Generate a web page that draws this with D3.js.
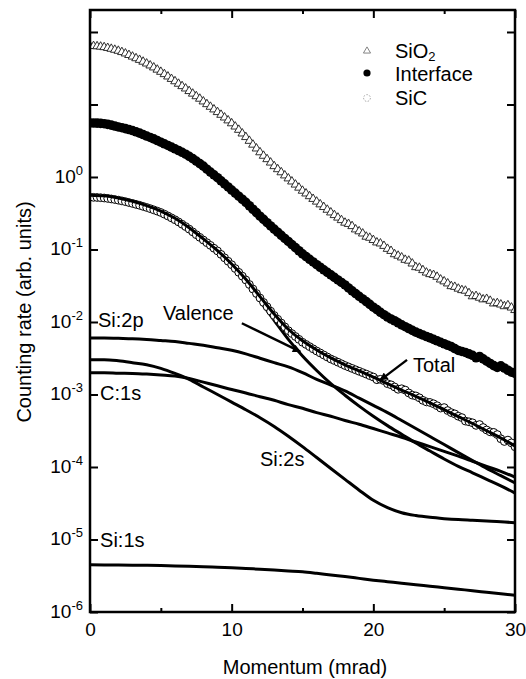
<!DOCTYPE html>
<html>
<head>
<meta charset="utf-8">
<script src="https://cdn.jsdelivr.net/npm/d3@7"></script>
<style>
  body { margin: 0; background: #fff; }
  text { font-family: "Liberation Sans", Arial, Helvetica, sans-serif; fill: #000; }
</style>
</head>
<body>
<div id="chart"></div>
<script>
// measured spectra, one point every 0.25 mrad
const momentum = [0, 0.25, 0.5, 0.75, 1, 1.25, 1.5, 1.75, 2, 2.25, 2.5, 2.75, 3, 3.25, 3.5, 3.75, 4, 4.25, 4.5, 4.75,
    5, 5.25, 5.5, 5.75, 6, 6.25, 6.5, 6.75, 7, 7.25, 7.5, 7.75, 8, 8.25, 8.5, 8.75, 9, 9.25, 9.5, 9.75,
    10, 10.25, 10.5, 10.75, 11, 11.25, 11.5, 11.75, 12, 12.25, 12.5, 12.75, 13, 13.25, 13.5, 13.75, 14, 14.25, 14.5, 14.75,
    15, 15.25, 15.5, 15.75, 16, 16.25, 16.5, 16.75, 17, 17.25, 17.5, 17.75, 18, 18.25, 18.5, 18.75, 19, 19.25, 19.5, 19.75,
    20, 20.25, 20.5, 20.75, 21, 21.25, 21.5, 21.75, 22, 22.25, 22.5, 22.75, 23, 23.25, 23.5, 23.75, 24, 24.25, 24.5, 24.75,
    25, 25.25, 25.5, 25.75, 26, 26.25, 26.5, 26.75, 27, 27.25, 27.5, 27.75, 28, 28.25, 28.5, 28.75, 29, 29.25, 29.5, 29.75, 30];

const sio2Rate = [64.1, 63.9, 63.5, 62.7, 61.7, 60.2, 58.6, 56.8, 55.0, 52.8, 50.5, 48.1, 45.7, 43.4, 41.2, 38.9,
    36.7, 34.5, 32.4, 30.2, 28.2, 26.2, 24.3, 22.5, 20.9, 19.3, 17.9, 16.6, 15.3, 14.1, 13.0, 12.0,
    11.0, 10.1, 9.29, 8.54, 7.85, 7.20, 6.61, 6.03, 5.50, 4.96, 4.47, 3.98, 3.55, 3.15, 2.79, 2.47,
    2.19, 1.96, 1.76, 1.58, 1.41, 1.28, 1.16, 1.05, 0.955, 0.866, 0.785, 0.712, 0.646, 0.592, 0.543, 0.498,
    0.457, 0.419, 0.385, 0.353, 0.324, 0.298, 0.275, 0.254, 0.234, 0.225, 0.210, 0.189, 0.178, 0.166, 0.150, 0.145,
    0.135, 0.125, 0.121, 0.112, 0.102, 0.0955, 0.0860, 0.0820, 0.0776, 0.0720, 0.0700, 0.0640, 0.0570, 0.0560, 0.0519, 0.0480,
    0.0457, 0.0445, 0.0420, 0.0385, 0.0363, 0.0340, 0.0312, 0.0305, 0.0288, 0.0275, 0.0270, 0.0250, 0.0226, 0.0228, 0.0216, 0.0205,
    0.0208, 0.0196, 0.0180, 0.0182, 0.0174, 0.0165, 0.0170, 0.0158, 0.0146];

const interfaceRate = [5.56, 5.55, 5.53, 5.48, 5.43, 5.31, 5.19, 5.05, 4.90, 4.78, 4.65, 4.51, 4.37, 4.20, 4.03, 3.85,
    3.67, 3.51, 3.35, 3.18, 3.02, 2.87, 2.72, 2.58, 2.45, 2.32, 2.19, 2.06, 1.93, 1.79, 1.66, 1.53,
    1.41, 1.28, 1.17, 1.07, 0.977, 0.886, 0.804, 0.729, 0.661, 0.599, 0.543, 0.493, 0.447, 0.401, 0.359, 0.322,
    0.288, 0.260, 0.234, 0.211, 0.191, 0.173, 0.157, 0.142, 0.129, 0.117, 0.106, 0.0961, 0.0871, 0.0799, 0.0733, 0.0673,
    0.0617, 0.0569, 0.0525, 0.0484, 0.0447, 0.0412, 0.0380, 0.0351, 0.0324, 0.0295, 0.0269, 0.0247, 0.0226, 0.0208, 0.0191, 0.0175,
    0.0160, 0.0148, 0.0136, 0.0126, 0.0117, 0.0110, 0.0104, 0.00974, 0.00912, 0.00861, 0.00813, 0.00767, 0.00724, 0.00692, 0.00661, 0.00631,
    0.00603, 0.00576, 0.00550, 0.00525, 0.00501, 0.00478, 0.00457, 0.00430, 0.00405, 0.00392, 0.00380, 0.00363, 0.00347, 0.00321, 0.00335, 0.00310,
    0.00288, 0.00268, 0.00250, 0.00236, 0.00248, 0.00232, 0.00216, 0.00203, 0.00195];

const sicRate = [0.525, 0.524, 0.522, 0.518, 0.513, 0.506, 0.498, 0.489, 0.479, 0.468, 0.457, 0.444, 0.432, 0.419, 0.407, 0.393,
    0.380, 0.366, 0.352, 0.338, 0.324, 0.307, 0.290, 0.273, 0.257, 0.240, 0.223, 0.207, 0.191, 0.175, 0.160, 0.147,
    0.135, 0.124, 0.114, 0.104, 0.0955, 0.0856, 0.0767, 0.0688, 0.0617, 0.0546, 0.0484, 0.0429, 0.0380, 0.0329, 0.0285, 0.0247,
    0.0214, 0.0186, 0.0162, 0.0141, 0.0123, 0.0109, 0.00966, 0.00856, 0.00759, 0.00692, 0.00631, 0.00576, 0.00525, 0.00490, 0.00457, 0.00426,
    0.00398, 0.00374, 0.00351, 0.00329, 0.00309, 0.00294, 0.00279, 0.00265, 0.00251, 0.00240, 0.00229, 0.00219, 0.00209, 0.00200, 0.00191, 0.00182,
    0.00174, 0.00160, 0.00162, 0.00155, 0.00141, 0.00136, 0.00127, 0.00118, 0.00120, 0.00115, 0.00105, 0.000980, 0.000955, 0.000900, 0.000830, 0.000790,
    0.000776, 0.000745, 0.000700, 0.000650, 0.000660, 0.000600, 0.000562, 0.000540, 0.000501, 0.000480, 0.000430, 0.000420, 0.000407, 0.000375, 0.000385, 0.000350,
    0.000324, 0.000305, 0.000300, 0.000280, 0.000245, 0.000225, 0.000235, 0.000215, 0.000190];

// fitted contributions, one point every 1 mrad
const fitMomentum = [0, 1, 2, 3, 4, 5, 6, 7, 8, 9, 10, 11, 12, 13, 14, 15, 16, 17, 18, 19, 20,
    21, 22, 23, 24, 25, 26, 27, 28, 29, 30];

const totalFit = [0.562, 0.550, 0.513, 0.462, 0.403, 0.339, 0.269, 0.200, 0.140, 0.0966, 0.0631, 0.0389, 0.0224,
    0.0129, 0.00794, 0.00550, 0.00412, 0.00320, 0.00257, 0.00211, 0.00174, 0.00141, 0.00115, 0.000944,
    0.000767, 0.000617, 0.000495, 0.000398, 0.000316, 0.000251, 0.000195];

const valenceFit = [0.550, 0.537, 0.501, 0.452, 0.394, 0.331, 0.263, 0.195, 0.136, 0.0944, 0.0617, 0.0363, 0.0195,
    0.0105, 0.00575, 0.00339, 0.00214, 0.00141, 0.000977, 0.000692, 0.000501, 0.000372, 0.000282, 0.000214,
    0.000166, 0.000129, 0.000102, 0.0000832, 0.0000676, 0.0000550, 0.0000437];

const si2pFit = [0.00603, 0.00603, 0.00596, 0.00589, 0.00575, 0.00556, 0.00537, 0.00507, 0.00479, 0.00442, 0.00407,
    0.00363, 0.00316, 0.00275, 0.00240, 0.00200, 0.00162, 0.00135, 0.00112, 0.000891, 0.000708, 0.000562,
    0.000437, 0.000339, 0.000263, 0.000204, 0.000158, 0.000123, 0.0000955, 0.0000759, 0.0000603];

const c1sFit = [0.00200, 0.00200, 0.00197, 0.00195, 0.00191, 0.00186, 0.00180, 0.00166, 0.00148, 0.00132, 0.00117,
    0.00105, 0.000933, 0.000832, 0.000724, 0.000646, 0.000562, 0.000501, 0.000437, 0.000389, 0.000339,
    0.000295, 0.000257, 0.000221, 0.000191, 0.000164, 0.000141, 0.000120, 0.000102, 0.0000871, 0.0000724];

const si2sFit = [0.00302, 0.00302, 0.00292, 0.00275, 0.00257, 0.00229, 0.00195, 0.00162, 0.00127, 0.00100, 0.000785,
    0.000617, 0.000479, 0.000363, 0.000266, 0.000191, 0.000135, 0.0000955, 0.0000676, 0.0000479, 0.0000347,
    0.0000275, 0.0000234, 0.0000214, 0.0000202, 0.0000194, 0.0000188, 0.0000184, 0.0000180, 0.0000176, 0.0000170];

const si1sFit = [4.47e-6, 4.46e-6, 4.44e-6, 4.42e-6, 4.40e-6, 4.37e-6, 4.32e-6, 4.26e-6, 4.20e-6, 4.14e-6, 4.07e-6,
    3.98e-6, 3.89e-6, 3.79e-6, 3.69e-6, 3.59e-6, 3.42e-6, 3.24e-6, 3.08e-6, 2.91e-6, 2.75e-6,
    2.62e-6, 2.50e-6, 2.38e-6, 2.27e-6, 2.16e-6, 2.06e-6, 1.97e-6, 1.87e-6, 1.78e-6, 1.70e-6];

// axis ticks
const xMajorTicks = [0, 10, 20, 30];
const xMinorTicks = [5, 15, 25];
const yTicks = [1e-6, 1e-5, 1e-4, 1e-3, 1e-2, 1e-1, 1e0, 1e1, 1e2];
const yTickExponents = ["-6", "-5", "-4", "-3", "-2", "-1", "0"];

// annotations: [text, momentum, rate]
const curveLabels = [
    ["Si:2p", 0.56, 8.5e-3],
    ["C:1s", 0.71, 8.4e-4],
    ["Si:1s", 0.71, 7.9e-6],
    ["Valence", 5.15, 1.07e-2],
    ["Total", 22.8, 2.04e-3],
    ["Si:2s", 12.0, 1.03e-4]
];
// arrows: [fromMomentum, fromRate, toMomentum, toRate]
const arrows = [
    [10.72, 9.6e-3, 14.84, 3.9e-3],
    [22.38, 3.0e-3, 20.49, 1.58e-3]
];

const width = 526, height = 679;

const svg = d3.select("#chart")
    .append("svg")
    .attr("width", width)
    .attr("height", height);

const x = d3.scaleLinear().domain([0, 30]).range([90, 515]);
const y = d3.scaleLog().domain([1e-6, 201]).range([612, 10]);

const defs = svg.append("defs");
defs.append("clipPath")
    .attr("id", "plot-clip")
    .append("rect")
    .attr("x", 90).attr("y", 10)
    .attr("width", 425).attr("height", 602);

defs.append("marker")
    .attr("id", "arrowhead")
    .attr("viewBox", "0 0 10 10")
    .attr("refX", 9).attr("refY", 5)
    .attr("markerWidth", 4.2).attr("markerHeight", 3.4)
    .attr("orient", "auto")
    .append("path")
    .attr("d", "M0,0 L10,5 L0,10 z")
    .attr("fill", "#000");

const plot = svg.append("g").attr("clip-path", "url(#plot-clip)");

// fitted component lines
const line = d3.line()
    .curve(d3.curveMonotoneX)
    .x((d, i) => x(fitMomentum[i]))
    .y(d => y(d));

[si1sFit, si2sFit, c1sFit, si2pFit, valenceFit].forEach(series => {
    plot.append("path")
        .datum(series)
        .attr("fill", "none")
        .attr("stroke", "#000")
        .attr("stroke-width", 3)
        .attr("d", line);
});

// SiO2 triangles
plot.append("g")
    .selectAll("path")
    .data(sio2Rate)
    .join("path")
    .attr("transform", (d, i) => `translate(${x(momentum[i])},${y(d)})`)
    .attr("d", d3.symbol(d3.symbolTriangle, 32))
    .attr("fill", "#fff")
    .attr("stroke", "#1a1a1a")
    .attr("stroke-width", 0.9);

// Interface dots
plot.append("g")
    .selectAll("circle")
    .data(interfaceRate)
    .join("circle")
    .attr("cx", (d, i) => x(momentum[i]))
    .attr("cy", d => y(d))
    .attr("r", 4.8)
    .attr("fill", "#000");

// SiC open circles
plot.append("g")
    .selectAll("circle")
    .data(sicRate)
    .join("circle")
    .attr("cx", (d, i) => x(momentum[i]))
    .attr("cy", d => y(d))
    .attr("r", 3.9)
    .attr("fill", "#fff")
    .attr("stroke", "#000")
    .attr("stroke-width", 1);

// total fit on top
plot.append("path")
    .datum(totalFit)
    .attr("fill", "none")
    .attr("stroke", "#000")
    .attr("stroke-width", 3)
    .attr("d", line);

// axes (ticks only, pointing inward)
const noLabel = () => "";
svg.append("g").attr("transform", "translate(0,612)")
    .call(d3.axisBottom(x).tickValues(xMajorTicks).tickSize(-8).tickPadding(11).tickFormat(d3.format("d")));
svg.append("g").attr("transform", "translate(0,612)")
    .call(d3.axisBottom(x).tickValues(xMinorTicks).tickSize(-4).tickFormat(noLabel));
svg.append("g").attr("transform", "translate(0,10)")
    .call(d3.axisTop(x).tickValues(xMajorTicks).tickSize(-8).tickFormat(noLabel));
svg.append("g").attr("transform", "translate(0,10)")
    .call(d3.axisTop(x).tickValues(xMinorTicks).tickSize(-4).tickFormat(noLabel));
svg.append("g").attr("transform", "translate(90,0)")
    .call(d3.axisLeft(y).tickValues(yTicks).tickSize(-8).tickFormat(noLabel));
svg.append("g").attr("transform", "translate(515,0)")
    .call(d3.axisRight(y).tickValues(yTicks).tickSize(-8).tickFormat(noLabel));

svg.selectAll(".domain").remove();
svg.selectAll(".tick line").attr("stroke", "#000").attr("stroke-width", 2);
svg.selectAll(".tick text").attr("font-size", 19).attr("fill", "#000")
    .style("font-family", "'Liberation Sans', Arial, sans-serif");

// frame
svg.append("rect")
    .attr("x", 90).attr("y", 10)
    .attr("width", 425).attr("height", 602)
    .attr("fill", "none")
    .attr("stroke", "#000")
    .attr("stroke-width", 2.5);

// y tick labels 10^n
const yLabels = svg.append("g");
yTickExponents.forEach((e, i) => {
    const t = yLabels.append("text")
        .attr("x", 83)
        .attr("y", y(yTicks[i]) + 6)
        .attr("text-anchor", "end")
        .attr("font-size", 19);
    t.append("tspan").text("10");
    t.append("tspan").attr("font-size", 13).attr("dy", -8).text(e);
});

// axis titles
svg.append("text")
    .attr("x", 305).attr("y", 674)
    .attr("text-anchor", "middle")
    .attr("font-size", 20)
    .text("Momentum (mrad)");

svg.append("text")
    .attr("transform", "translate(31,312) rotate(-90)")
    .attr("text-anchor", "middle")
    .attr("font-size", 20)
    .text("Counting rate (arb. units)");

// curve annotations
curveLabels.forEach(([label, m, r]) => {
    svg.append("text")
        .attr("x", x(m)).attr("y", y(r))
        .attr("font-size", 20)
        .text(label);
});

arrows.forEach(([m0, r0, m1, r1]) => {
    svg.append("line")
        .attr("x1", x(m0)).attr("y1", y(r0))
        .attr("x2", x(m1)).attr("y2", y(r1))
        .attr("stroke", "#000")
        .attr("stroke-width", 2.4)
        .attr("marker-end", "url(#arrowhead)");
});

// legend
const legend = svg.append("g");
legend.append("path")
    .attr("transform", "translate(367,51)")
    .attr("d", d3.symbol(d3.symbolTriangle, 22))
    .attr("fill", "#fff").attr("stroke", "#777").attr("stroke-width", 0.9);
legend.append("circle")
    .attr("cx", 367).attr("cy", 73).attr("r", 3.6).attr("fill", "#000");
legend.append("circle")
    .attr("cx", 367).attr("cy", 98).attr("r", 3.4)
    .attr("fill", "#fff").attr("stroke", "#999").attr("stroke-width", 0.9)
    .attr("stroke-dasharray", "1.5,1.5");

const sio2Text = legend.append("text").attr("x", 395).attr("y", 58).attr("font-size", 20);
sio2Text.append("tspan").text("SiO");
sio2Text.append("tspan").attr("font-size", 13).attr("dy", 3).text("2");
legend.append("text").attr("x", 395).attr("y", 81).attr("font-size", 20).text("Interface");
legend.append("text").attr("x", 395).attr("y", 105).attr("font-size", 20).text("SiC");
</script>
</body>
</html>
